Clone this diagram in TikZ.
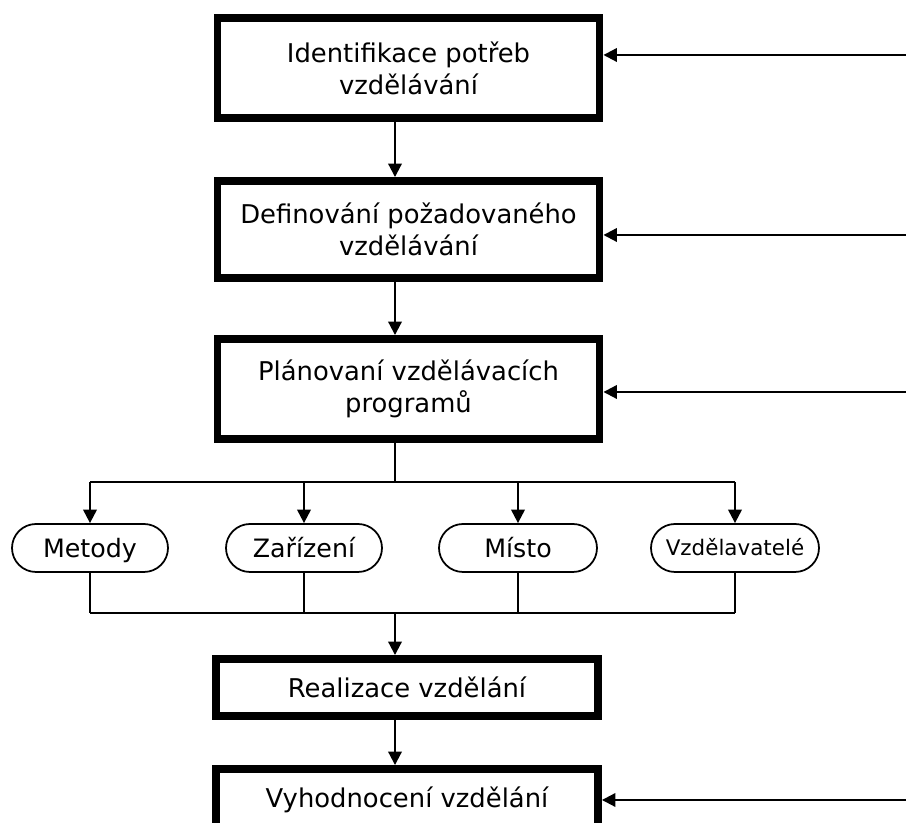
\documentclass[tikz,border=0pt]{standalone}
\usepackage{fontspec}
\setmainfont{DejaVu Sans}
\usetikzlibrary{arrows.meta}

\begin{document}
\begin{tikzpicture}[
  box/.style={draw, fill=white, line width=4.5pt, minimum width=7.64cm, align=center,
    inner sep=0pt, font=\fontsize{14.7}{18.2}\selectfont},
  oval/.style={draw, line width=1pt, rounded corners=0.48cm, minimum height=0.96cm,
    inner sep=0pt, text height=10.5pt, text depth=0pt, font=\fontsize{14.4}{17}\selectfont},
  link/.style={line width=1.2pt},
  arr/.style={link, -{Triangle[length=0.27cm,width=0.27cm]}}
]
\useasboundingbox (0,0) rectangle (18.12,16.46);
\clip (0,0) rectangle (18.12,16.46);

% main boxes
\node[box, minimum height=2cm]    (b1) at (8.17,15.1)  {Identifikace potřeb\\vzdělávání};
\node[box, minimum height=1.94cm] (b2) at (8.17,11.87) {Definování požadovaného\\vzdělávání};
\node[box, minimum height=2cm]    (b3) at (8.17,8.68)  {Plánovaní vzdělávacích\\programů};
\node[box, minimum height=1.14cm] (b4) at (8.14,2.71)  {Realizace vzdělání};
\node[box, minimum height=1.24cm] (b5) at (8.14,0.46)  {Vyhodnocení vzdělání};

% resources
\node[oval, minimum width=3.12cm] (m1) at (1.8,5.5)   {Metody};
\node[oval, minimum width=3.12cm] (m2) at (6.08,5.5)  {Zařízení};
\node[oval, minimum width=3.16cm] (m3) at (10.36,5.5) {Místo};
\node[oval, minimum width=3.36cm, text height=9pt, font=\fontsize{12.2}{15}\selectfont] (m4) at (14.7,5.5) {Vzdělavatelé};

\coordinate (spine) at (7.9,0);
\coordinate (split) at (7.9,6.82);
\coordinate (join)  at (7.9,4.2);

\draw[arr] (b1.south -| spine) -- (b2.north -| spine);
\draw[arr] (b2.south -| spine) -- (b3.north -| spine);
\draw[link] (b3.south -| spine) -- (split);
\draw[link] (split -| m1.north) -- (split -| m4.north);
\foreach \m in {m1,m2,m3,m4} {
  \draw[arr] (split -| \m.north) -- (\m.north);
  \draw[link] (\m.south) -- (join -| \m.south);
}
\draw[link] (join -| m1.south) -- (join -| m4.south);
\draw[arr] (join) -- (b4.north -| spine);
\draw[arr] (b4.south -| spine) -- (b5.north -| spine);

% feedback from the right
\coordinate (f1) at (18.12,15.36);
\coordinate (f2) at (18.12,11.76);
\coordinate (f3) at (18.12,8.62);
\coordinate (f5) at (18.12,0.46);
\draw[arr] (f1) -- (f1 -| b1.east);
\draw[arr] (f2) -- (f2 -| b2.east);
\draw[arr] (f3) -- (f3 -| b3.east);
\draw[arr] (f5) -- (f5 -| b5.east);
\end{tikzpicture}
\end{document}
